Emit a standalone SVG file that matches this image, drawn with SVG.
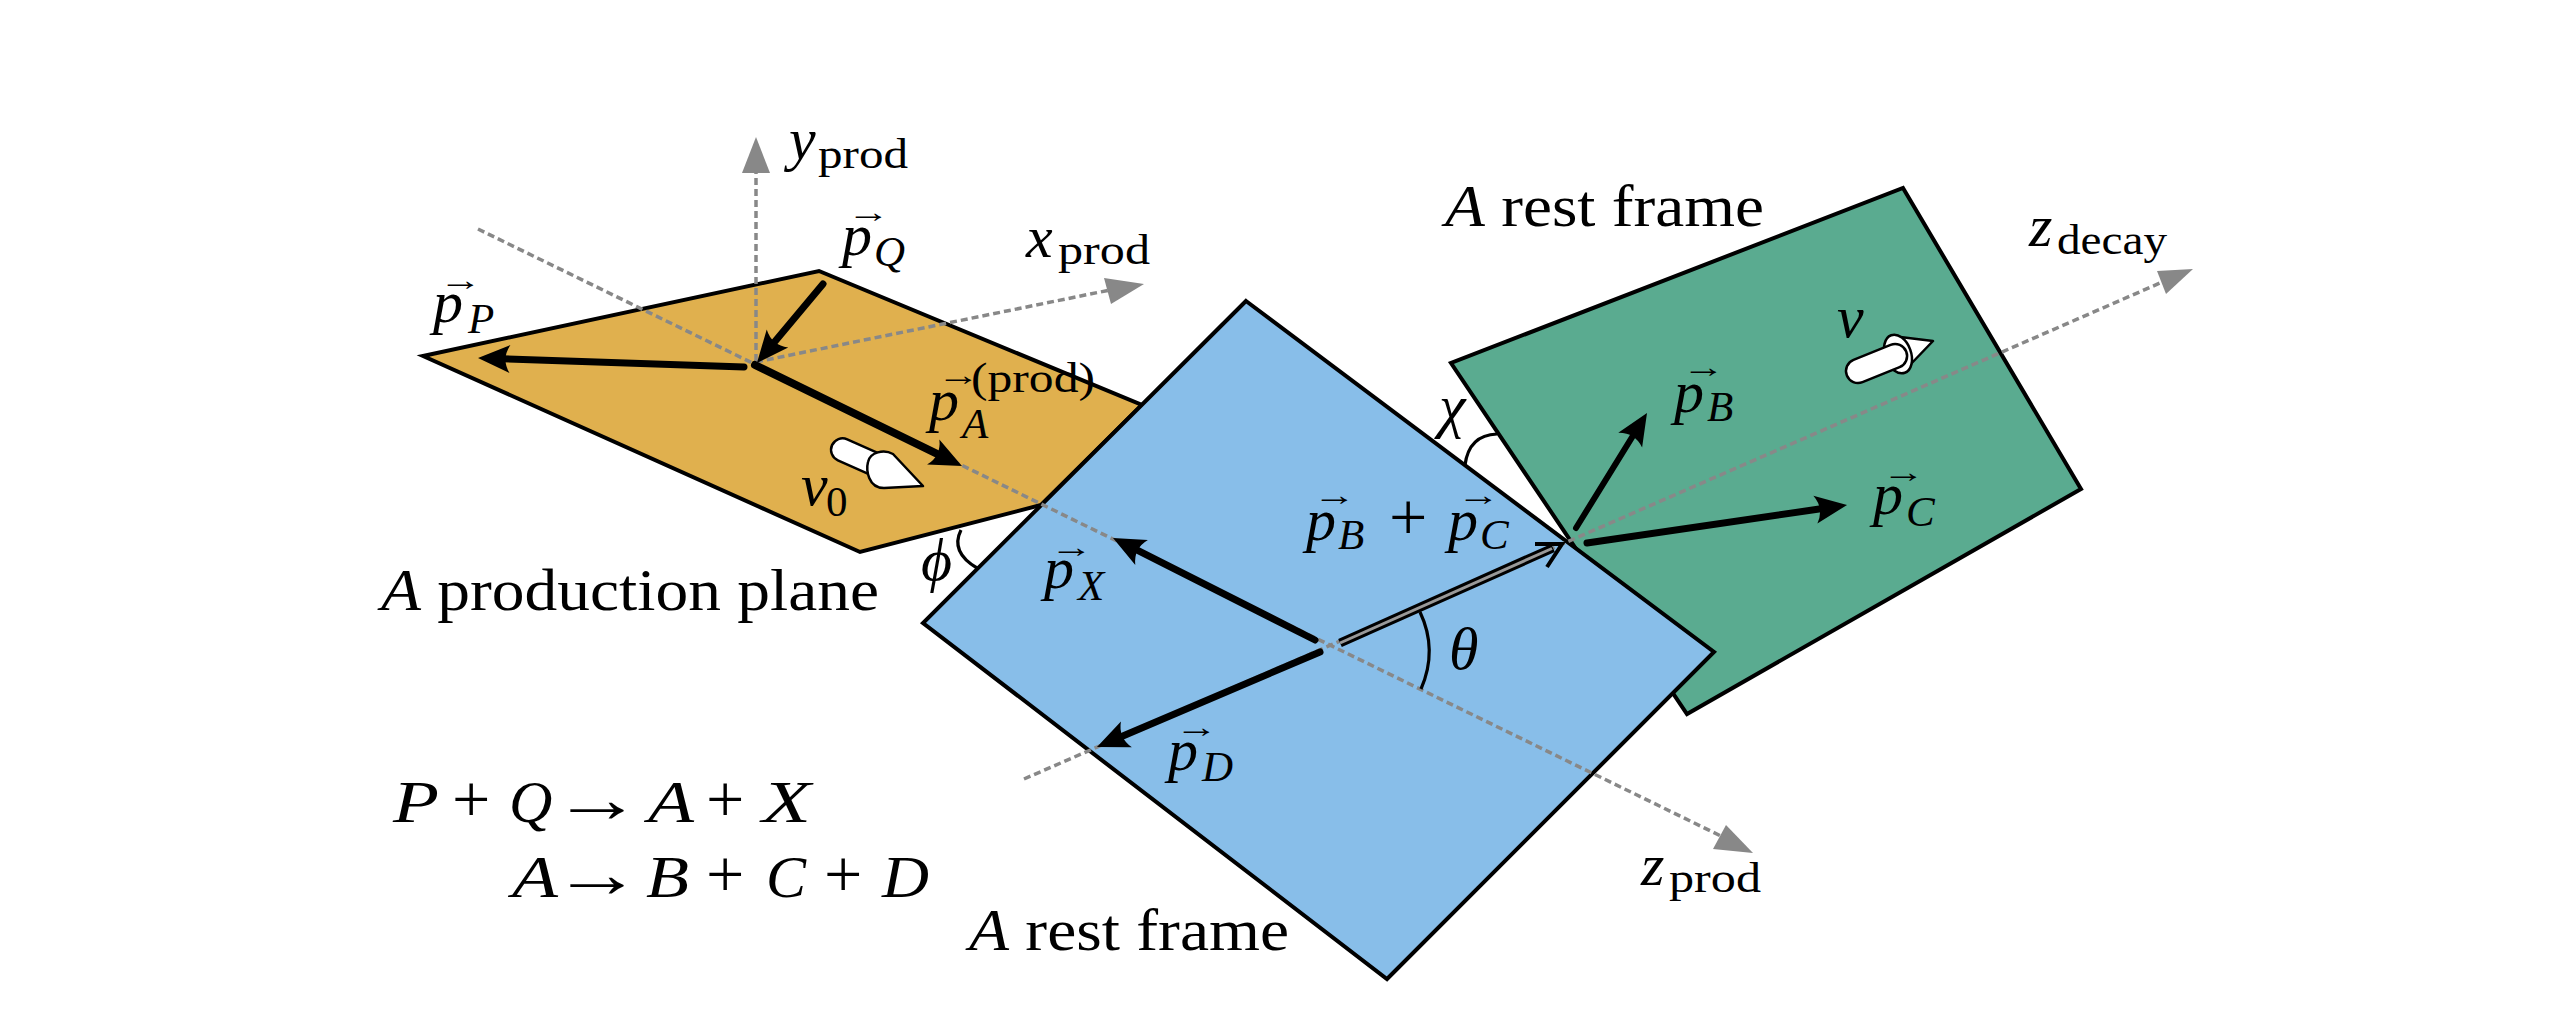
<svg xmlns="http://www.w3.org/2000/svg" width="2568" height="1016" viewBox="0 0 2568 1016">
<style>
text{font-family:"Liberation Serif",serif;fill:#000}
.r{font-size:60px;font-style:normal}
.m{font-size:60px;font-style:italic}
.s{font-size:43px;font-style:italic}
.sr{font-size:43px;font-style:normal}
.o{font-size:68px;font-style:normal}
.v{font-size:30px;font-style:normal}
.plane{stroke:#000;stroke-width:4;stroke-linejoin:miter}
.axis{fill:none;stroke:#888;stroke-width:3.5;stroke-dasharray:7 4}
.head{fill:#888;stroke:none}
.vec{stroke:#000;fill:none;stroke-linecap:round}
.arc{fill:none;stroke:#000;stroke-width:3.2}
.spin{fill:#fff;stroke:#000;stroke-width:2.5;stroke-linejoin:round}
</style>
<defs>
<marker id="ah" markerUnits="userSpaceOnUse" markerWidth="36" markerHeight="30" refX="18" refY="15" orient="auto" viewBox="0 0 36 30">
<path d="M34,15L2,1Q11,15 2,29Z" fill="#000"/>
</marker>
</defs>
<g id="plane-decay"><polygon class="plane" fill="#5AAB90" points="1903,188 2081,489 1687,714 1451,363"/></g>
<g id="plane-production"><polygon class="plane" fill="#E0B04E" points="423,356 819,271 1142,405 1041,505 860,552"/></g>
<g id="plane-rest"><polygon class="plane" fill="#88BEE9" points="1246,301 1714,652 1387,979 923,623"/></g>
<g id="spin-nu0">
<rect class="spin" x="831" y="438.5" width="60" height="23" rx="11.5" transform="rotate(24 843 450)"/>
<path class="spin" d="M893,454L923,486L884,488C868,488 866,470 868,462C870,452 884,449 893,454Z"/>
</g>
<g id="spin-nu">
<path class="spin" d="M1892,336L1933,341L1908,367Z"/>
<ellipse class="spin" cx="1898" cy="354" rx="13" ry="20" transform="rotate(-20 1898 354)"/>
<rect class="spin" x="1846" y="359" width="64" height="24" rx="12" transform="rotate(-22 1858 371)"/>
</g>
<g id="connectors">
<path class="axis" d="M756,361V172"/>
<path class="head" d="M756,137L770,173H742Z"/>
<path class="axis" d="M756,362L1110,290"/>
<path class="head" d="M1144,284L1104,278L1111,304Z"/>
<path class="axis" d="M478,229L1725,838"/>
<path class="head" d="M1753,853L1726,825L1713,849Z"/>
<path class="axis" d="M1024,779L2160,283"/>
<path class="head" d="M2193,269L2157,271L2166,294Z"/>
<path class="vec" stroke-width="7" marker-end="url(#ah)" d="M744,367L494,358.5"/>
<path class="vec" stroke-width="7" marker-end="url(#ah)" d="M823,284L767.2,350.7"/>
<path class="vec" stroke-width="8" marker-end="url(#ah)" d="M755,365L947.6,459"/>
<path class="vec" stroke-width="7" marker-end="url(#ah)" d="M1315,640L1127.3,545.2"/>
<path class="vec" stroke-width="7" marker-end="url(#ah)" d="M1320,652L1111.7,740.7"/>
<path stroke="#000" fill="none" stroke-width="9" d="M1340,643L1553,548"/>
<path fill="none" stroke="#000" stroke-width="4" d="M1535,544L1562,544L1547,567"/>
<path fill="none" stroke="#999" stroke-width="3" d="M1340,643L1552,548.5"/>
<path class="vec" stroke-width="6" marker-end="url(#ah)" d="M1576,528L1638.6,426.6"/>
<path class="vec" stroke-width="7" marker-end="url(#ah)" d="M1587,543L1831.2,507.3"/>
<path class="arc" d="M961,530Q950,552 977,568"/>
<path class="arc" d="M1465,465Q1469,435 1497,434"/>
<path class="arc" d="M1420,612Q1438,650 1421,689"/>
</g>
<g id="labels">
<text class="m" x="789" y="159">y<tspan class="sr" x="818" y="168" textLength="90" lengthAdjust="spacingAndGlyphs">prod</tspan></text>
<text class="m" x="1026" y="257">x<tspan class="sr" x="1058" y="264" textLength="92" lengthAdjust="spacingAndGlyphs">prod</tspan></text>
<text class="m" x="2029" y="246">z<tspan class="sr" x="2057" y="254" textLength="110" lengthAdjust="spacingAndGlyphs">decay</tspan></text>
<text class="m" x="1641" y="885">z<tspan class="sr" x="1669" y="892" textLength="92" lengthAdjust="spacingAndGlyphs">prod</tspan></text>
<text class="m" x="842" y="255">p<tspan class="v" x="847" y="222" textLength="43" lengthAdjust="spacingAndGlyphs">→</tspan><tspan class="s" x="874" y="266">Q</tspan></text>
<text class="m" x="433" y="322">p<tspan class="v" x="439" y="290" textLength="43" lengthAdjust="spacingAndGlyphs">→</tspan><tspan class="s" x="468" y="333">P</tspan></text>
<text class="m" x="929" y="420">p<tspan class="v" x="937" y="385" textLength="43" lengthAdjust="spacingAndGlyphs">→</tspan><tspan class="s" x="962" y="438">A</tspan><tspan class="sr" x="971" y="392" textLength="124" lengthAdjust="spacingAndGlyphs">(prod)</tspan></text>
<text class="m" x="801" y="505">ν<tspan class="sr" x="826" y="516">0</tspan></text>
<text class="m" x="1837" y="337">ν</text>
<text class="m" x="921" y="580">ϕ</text>
<text class="m" x="1439" y="426">χ</text>
<text class="m" x="1449" y="669">θ</text>
<text class="m" x="1044" y="588">p<tspan class="v" x="1050" y="557" textLength="43" lengthAdjust="spacingAndGlyphs">→</tspan><tspan class="s" x="1078" y="600">X</tspan></text>
<text class="m" x="1168" y="770">p<tspan class="v" x="1175" y="737" textLength="43" lengthAdjust="spacingAndGlyphs">→</tspan><tspan class="s" x="1202" y="781">D</tspan></text>
<text class="m" x="1306" y="540">p<tspan class="v" x="1313" y="505" textLength="43" lengthAdjust="spacingAndGlyphs">→</tspan><tspan class="s" x="1338" y="549">B</tspan><tspan class="o" x="1389" y="540">+</tspan><tspan x="1448" y="540">p</tspan><tspan class="v" x="1457" y="505" textLength="43" lengthAdjust="spacingAndGlyphs">→</tspan><tspan class="s" x="1480" y="549">C</tspan></text>
<text class="m" x="1674" y="412">p<tspan class="v" x="1682" y="377" textLength="43" lengthAdjust="spacingAndGlyphs">→</tspan><tspan class="s" x="1707" y="421">B</tspan></text>
<text class="m" x="1873" y="514">p<tspan class="v" x="1882" y="482" textLength="43" lengthAdjust="spacingAndGlyphs">→</tspan><tspan class="s" x="1906" y="526">C</tspan></text>
<text class="r" x="381" y="610" textLength="498" lengthAdjust="spacingAndGlyphs"><tspan class="m">A</tspan> production plane</text>
<text class="r" x="1445" y="226" textLength="319" lengthAdjust="spacingAndGlyphs"><tspan class="m">A</tspan> rest frame</text>
<text class="r" x="969" y="950" textLength="320" lengthAdjust="spacingAndGlyphs"><tspan class="m">A</tspan> rest frame</text>
<text class="m" y="822"><tspan x="393" textLength="46" lengthAdjust="spacingAndGlyphs">P</tspan><tspan class="o" x="452">+</tspan><tspan x="509">Q</tspan><tspan class="o" x="552" textLength="90" lengthAdjust="spacingAndGlyphs">→</tspan><tspan x="648" textLength="46" lengthAdjust="spacingAndGlyphs">A</tspan><tspan class="o" x="706">+</tspan><tspan x="762" textLength="49" lengthAdjust="spacingAndGlyphs">X</tspan></text>
<text class="m" y="897"><tspan x="512" textLength="46" lengthAdjust="spacingAndGlyphs">A</tspan><tspan class="o" x="552" textLength="90" lengthAdjust="spacingAndGlyphs">→</tspan><tspan x="646" textLength="43" lengthAdjust="spacingAndGlyphs">B</tspan><tspan class="o" x="706">+</tspan><tspan x="766">C</tspan><tspan class="o" x="824">+</tspan><tspan x="882" textLength="47" lengthAdjust="spacingAndGlyphs">D</tspan></text>
</g>
</svg>
